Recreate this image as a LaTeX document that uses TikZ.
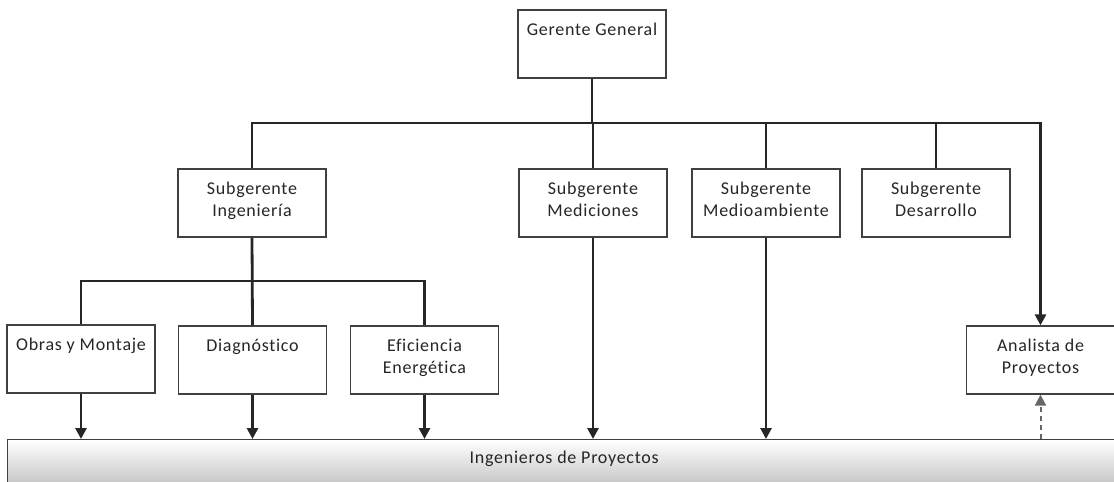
\documentclass[tikz,border=0pt]{standalone}
\usepackage{fontspec}
\setmainfont{Carlito}[LetterSpace=4,Ligatures=NoCommon]
\usetikzlibrary{arrows.meta,shadings}

\tikzset{
  box/.style={draw=black!75, line width=1.3pt, fill=white, inner sep=0pt,
    minimum width=148pt, minimum height=68pt},
  conn/.style={draw=black!85, line width=2.8pt},
  arr/.style={-{Triangle[width=11pt,length=11pt]}},
  dconn/.style={draw=black!60, line width=2pt, dash pattern=on 5pt off 4pt,
    -{Triangle[width=11pt,length=11pt]}},
  barbox/.style={draw=black!75, line width=1.3pt, inner sep=0pt,
    top color=white, bottom color=black!25,
    minimum width=1113pt, minimum height=50pt}
}
\newcommand{\orgtxt}[1]{\parbox[c][68pt][t]{148pt}{\centering
  \fontsize{18}{22}\selectfont\color{black!85}\rule{0pt}{25pt}#1}}

\begin{document}
\begin{tikzpicture}[x=1pt,y=-1pt]
\useasboundingbox (0,0) rectangle (1114,482);
\clip (0,0) rectangle (1114,482);

% nivel superior
\node[box] (gg) at (592,44) {\orgtxt{Gerente General}};

% subgerencias
\node[box] (ing) at (252,203) {\orgtxt{Subgerente\\Ingenier\'ia}};
\node[box] (med) at (593,203) {\orgtxt{Subgerente\\Mediciones}};
\node[box] (mam) at (766,203) {\orgtxt{Subgerente\\Medioambiente}};
\node[box] (des) at (936,203) {\orgtxt{Subgerente\\Desarrollo}};

% areas de ingenieria
\node[box] (obr) at (81,359) {\orgtxt{Obras y Montaje}};
\node[box] (dia) at (252.5,360) {\orgtxt{Diagn\'ostico}};
\node[box] (efi) at (424.5,360) {\orgtxt{Eficiencia\\Energ\'etica}};
\node[box] (ana) at (1040.5,360) {\orgtxt{Analista de\\Proyectos}};

% barra inferior
\node[barbox, anchor=north west] (bar) at (7,439)
  {\parbox[c][50pt][t]{1113pt}{\centering\fontsize{18}{22}\selectfont
   \color{black!85}\rule{0pt}{24pt}Ingenieros de Proyectos}};

% buses
\coordinate (bus) at (592,123);
\coordinate (sub) at (252.5,281);

\draw[conn] (gg.south) -- (bus);
\draw[conn,arr] (ing.north) |- (bus) -| (ana.north);
\draw[conn] (med.north) -- (med.north |- bus);
\draw[conn] (mam.north) -- (mam.north |- bus);
\draw[conn] (des.north) -- (des.north |- bus);

\draw[conn] (ing.south) -- (dia.north);
\draw[conn] (obr.north) |- (sub) -| (efi.north);

\draw[conn,arr] (obr.south) -- (obr.south |- bar.north);
\draw[conn,arr] (dia.south) -- (dia.south |- bar.north);
\draw[conn,arr] (efi.south) -- (efi.south |- bar.north);
\draw[conn,arr] (med.south) -- (med.south |- bar.north);
\draw[conn,arr] (mam.south) -- (mam.south |- bar.north);

\draw[dconn] (ana.south |- bar.north) -- (ana.south);

\end{tikzpicture}
\end{document}
